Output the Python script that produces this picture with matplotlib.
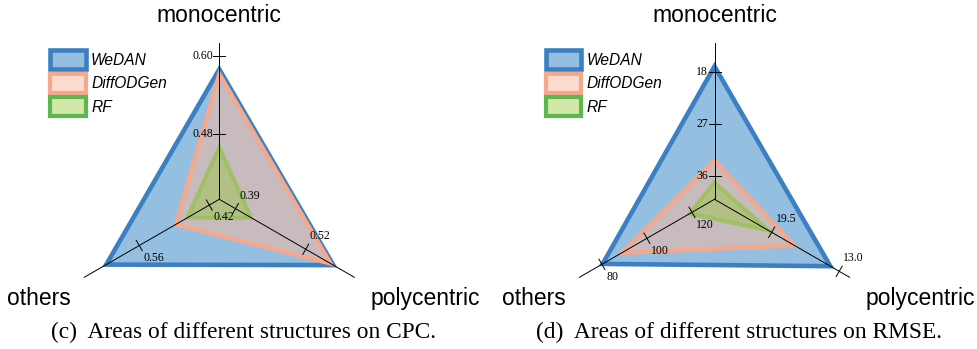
import numpy as np
import matplotlib
matplotlib.use('Agg')
import matplotlib.pyplot as plt
from matplotlib.patches import Polygon, Patch
from matplotlib.font_manager import FontProperties

# Radar axes (same order in every list below)
categories = ['monocentric', 'polycentric', 'others']
models = ['WeDAN', 'DiffODGen', 'RF']

# CPC per structure (higher is better)
cpc_wedan = [0.580, 0.571, 0.626]
cpc_diffodgen = [0.573, 0.566, 0.487]
cpc_rf = [0.460, 0.419, 0.464]
cpc_limits = [(0.38, 0.62), (0.36, 0.61), (0.40, 0.67)]
cpc_ticks = [[0.48, 0.60], [0.39, 0.52], [0.42, 0.56]]
cpc_ticklabels = [['0.48', '0.60'], ['0.39', '0.52'], ['0.42', '0.56']]

# RMSE per structure (lower is better -> reversed axes)
rmse_wedan = [17.0, 13.85, 80.3]
rmse_diffodgen = [33.3, 17.3, 88.8]
rmse_rf = [37.1, 19.8, 119.0]
rmse_limits = [(40, 13), (25, 12), (130, 70)]
rmse_ticks = [[36, 27, 18], [19.5, 13.0], [120, 100, 80]]
rmse_ticklabels = [['36', '27', '18'], ['19.5', '13.0'], ['120', '100', '80']]

W, H, DPI = 977, 349, 100
L = 156.0  # axis length in pixels
angles = np.deg2rad([90, -30, 210])

edge_cols = ['#3a80c2', '#f5a88c', '#5cb84e']
face_cols = [(0.17, 0.50, 0.76, 0.5), (0.98, 0.72, 0.62, 0.5), (0.60, 0.78, 0.22, 0.42)]
plot_edge_cols = [(0.23, 0.50, 0.76, 1.0), (0.96, 0.66, 0.55, 1.0), (0.58, 0.76, 0.30, 0.7)]
lws = [3.3, 3.0, 3.0]

sans = 'Liberation Sans'
serif = 'Liberation Serif'

fig = plt.figure(figsize=(W / DPI, H / DPI), dpi=DPI)


def to_xy(vals, limits):
    r = np.array([(v - lo) / (hi - lo) for v, (lo, hi) in zip(vals, limits)])
    return np.column_stack([r * np.cos(angles), r * np.sin(angles)])


def radar(cx, cy, series, limits, ticks, ticklabels, caption):
    ax = fig.add_axes([(cx - 1.4 * L) / W, (H - cy - 0.9 * L) / H, 2.8 * L / W, 2.1 * L / H])
    ax.set_xlim(-1.4, 1.4)
    ax.set_ylim(-0.9, 1.2)
    ax.axis('off')

    for i, vals in enumerate(series):
        pts = to_xy(vals, limits)
        ax.add_patch(Polygon(pts, closed=True, facecolor=face_cols[i], edgecolor='none', zorder=1 + i))
        ax.add_patch(Polygon(pts, closed=True, facecolor='none', edgecolor=plot_edge_cols[i], lw=lws[i],
                             joinstyle='miter', zorder=1 + i))

    # spokes, ticks and tick labels
    half = 6 / L
    for k, a in enumerate(angles):
        ax.plot([0, np.cos(a)], [0, np.sin(a)], color='black', lw=0.7, zorder=10)
        lo, hi = limits[k]
        for t, lab in zip(ticks[k], ticklabels[k]):
            r = (t - lo) / (hi - lo)
            x, y = r * np.cos(a), r * np.sin(a)
            px, py = -np.sin(a), np.cos(a)
            ax.plot([x - half * px, x + half * px], [y - half * py, y + half * py],
                    color='black', lw=0.7, zorder=10)
            if k == 0:
                ax.annotate(lab, (x, y), xytext=(-4.5, 0), textcoords='offset points',
                            ha='right', va='center', family=serif, fontsize=8.5, zorder=11)
            elif k == 1:
                ax.annotate(lab, (x, y), xytext=(3, 5), textcoords='offset points',
                            ha='left', va='bottom', family=serif, fontsize=8.5, zorder=11)
            else:
                ax.annotate(lab, (x, y), xytext=(3, -4.5), textcoords='offset points',
                            ha='left', va='top', family=serif, fontsize=8.5, zorder=11)

    ax.text(0, 1.18, categories[0], ha='center', va='center', family=sans, fontsize=16.5)
    ax.text(1.673, -0.633, categories[1], ha='right', va='center', family=sans, fontsize=16.5)
    ax.text(-1.36, -0.633, categories[2], ha='left', va='center', family=sans, fontsize=16.5)

    handles = [Patch(facecolor=face_cols[i], edgecolor=edge_cols[i], lw=lws[i]) for i in range(3)]
    ax.legend(handles, models, loc='upper left',
              bbox_to_anchor=((cx - 169) / W, 1 - 50 / H), bbox_transform=fig.transFigure,
              frameon=False, borderpad=0, borderaxespad=0, handlelength=2.3, handleheight=1.5,
              labelspacing=0.3, handletextpad=0.32,
              prop=FontProperties(family=sans, style='italic', size=11.2))

    fig.text((cx + 24) / W, 1 - 332 / H, caption, ha='center', va='center', family=serif, fontsize=16.8)


radar(219.3, 199.3, [cpc_wedan, cpc_diffodgen, cpc_rf], cpc_limits, cpc_ticks, cpc_ticklabels,
      '(c)  Areas of different structures on CPC.')
radar(714.5, 199.3, [rmse_wedan, rmse_diffodgen, rmse_rf], rmse_limits, rmse_ticks, rmse_ticklabels,
      '(d)  Areas of different structures on RMSE.')

fig.savefig('out.png', dpi=DPI)
